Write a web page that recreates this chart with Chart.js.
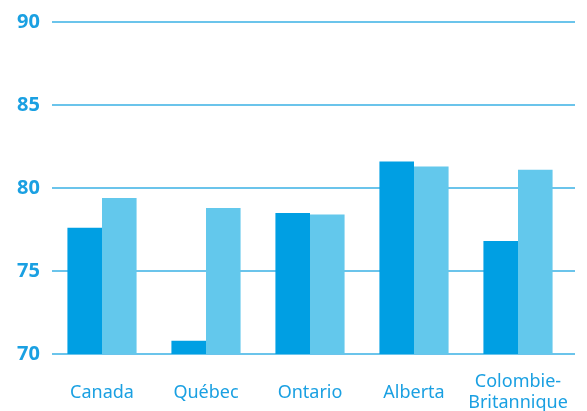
<!DOCTYPE html>
<html>
<head>
<meta charset="utf-8">
<script src="https://cdn.jsdelivr.net/npm/chart.js@4"></script>
<style>
  html, body { margin: 0; padding: 0; background: #fff; }
  #wrap { width: 587px; height: 411px; position: relative; }
</style>
</head>
<body>
<div id="wrap"><canvas id="chart"></canvas></div>
<script>
// regions
const provinces = ['Canada', 'Québec', 'Ontario', 'Alberta', ['Colombie-', 'Britannique']];
// two series (dark / light)
const serieFoncee = [77.6, 70.8, 78.5, 81.6, 76.8];
const serieClaire = [79.4, 78.8, 78.4, 81.3, 81.1];
const yTicks = [70, 75, 80, 85, 90];

const bleuFonce = '#009fe3';
const bleuClair = '#63c8ec';
const texte = '#1aa0e2';

// horizontal lines a bit wider than the plot area, drawn behind the bars
const lignesGrille = {
    id: 'lignesGrille',
    beforeDatasetsDraw(chart) {
        const { ctx, chartArea, scales } = chart;
        ctx.save();
        ctx.strokeStyle = '#3ab0e5';
        ctx.lineWidth = 1.5;
        yTicks.forEach(v => {
            const y = scales.y.getPixelForValue(v);
            ctx.beginPath();
            ctx.moveTo(chartArea.left + 2, y);
            ctx.lineTo(chartArea.right + 5, y);
            ctx.stroke();
        });
        ctx.restore();
    }
};

const ctx = document.getElementById('chart').getContext('2d');
new Chart(ctx, {
    type: 'bar',
    data: {
        labels: provinces,
        datasets: [{
            label: 'Série 1',
            data: serieFoncee,
            backgroundColor: bleuFonce,
            categoryPercentage: 0.665,
            barPercentage: 1
        }, {
            label: 'Série 2',
            data: serieClaire,
            backgroundColor: bleuClair,
            categoryPercentage: 0.665,
            barPercentage: 1
        }]
    },
    options: {
        responsive: true,
        maintainAspectRatio: false,
        animation: false,
        layout: { padding: { top: 14, right: 17, left: 0, bottom: 0 } },
        plugins: {
            legend: { display: false },
            tooltip: { enabled: false }
        },
        scales: {
            x: {
                afterFit: (scale) => {
                    scale.height = 57;
                    scale.paddingLeft = 0;
                    scale.paddingRight = 0;
                },
                grid: { display: false, drawTicks: false },
                border: { display: false },
                ticks: {
                    color: texte,
                    crossAlign: 'center',
                    padding: 28,
                    maxRotation: 0,
                    minRotation: 0,
                    autoSkip: false,
                    font: { family: 'Noto Sans', size: 18, lineHeight: 1.17 }
                }
            },
            y: {
                min: 70,
                max: 90,
                afterBuildTicks: (scale) => {
                    scale.ticks = yTicks.map(v => ({ value: v }));
                },
                afterFit: (scale) => { scale.width = 50; },
                grid: { display: false, drawTicks: false },
                border: { display: false },
                ticks: {
                    color: texte,
                    padding: 10,
                    font: { family: 'Noto Sans', size: 20, weight: 'bold' }
                }
            }
        }
    },
    plugins: [lignesGrille]
});
</script>
</body>
</html>
